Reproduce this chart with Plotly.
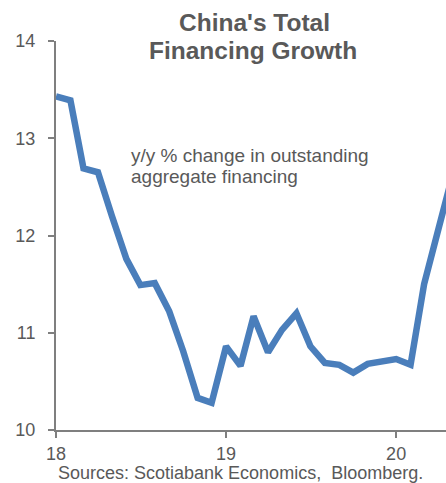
import plotly.graph_objects as go
import pandas as pd

months = pd.date_range("2018-01-01", periods=29, freq="MS")
growth = [13.43, 13.39, 12.69, 12.65, 12.20, 11.76, 11.49, 11.51, 11.22, 10.81, 10.33, 10.28,
          10.86, 10.66, 11.17, 10.80, 11.03, 11.20, 10.86, 10.69, 10.67, 10.59, 10.68, 10.70,
          10.73, 10.67, 11.50, 12.07, 12.62]
tick_vals = ["2018-01-01", "2019-01-01", "2020-01-01"]
tick_text = ["18", "19", "20"]

grey = "#595959"
axis_grey = "#7F7F7F"

W, H = 446, 483
L, T, B = 56, 41, 53
PW, PH = W - L, H - T - B


def px(xp):
    return (xp - L) / PW


def py(yp):
    return (H - B - yp) / PH


fig = go.Figure()
fig.add_trace(go.Scatter(x=months, y=growth, mode="lines",
                         line=dict(color="#4A7EBB", width=6.5), hoverinfo="skip"))

fig.update_layout(
    width=W, height=H,
    margin=dict(l=L, r=0, t=T, b=B, autoexpand=False),
    paper_bgcolor="white", plot_bgcolor="white",
    showlegend=False,
    font=dict(family="Liberation Sans, Arial, sans-serif", color=grey, size=18),
    xaxis=dict(range=["2018-01-01", "2020-04-17"], tickvals=tick_vals, ticktext=tick_text,
               showgrid=False, zeroline=False, showline=True, linecolor=axis_grey, linewidth=2,
               ticks="outside", ticklen=6, tickwidth=2, tickcolor=axis_grey,
               tickfont=dict(size=18, color=grey)),
    yaxis=dict(range=[10, 14], tickvals=[10, 11, 12, 13, 14], showgrid=False, zeroline=False,
               showline=True, linecolor=axis_grey, linewidth=2,
               ticks="outside", ticklen=6, tickwidth=2, tickcolor=axis_grey,
               ticklabelstandoff=9,
               tickfont=dict(size=18, color=grey)),
    annotations=[
        dict(text="<b>China's Total</b>", xref="paper", yref="paper",
             x=px(254), y=py(22), xanchor="center", yanchor="middle",
             showarrow=False, font=dict(size=24.5, color=grey)),
        dict(text="<b>Financing Growth</b>", xref="paper", yref="paper",
             x=px(253), y=py(50), xanchor="center", yanchor="middle",
             showarrow=False, font=dict(size=24.5, color=grey)),
        dict(text="y/y % change in outstanding", xref="paper", yref="paper",
             x=px(129), y=py(155), xanchor="left", yanchor="middle",
             showarrow=False, font=dict(size=19, color=grey)),
        dict(text="aggregate financing", xref="paper", yref="paper",
             x=px(129), y=py(176), xanchor="left", yanchor="middle",
             showarrow=False, font=dict(size=19, color=grey)),
        dict(text="Sources: Scotiabank Economics,  Bloomberg.", xref="paper", yref="paper",
             x=px(240), y=py(473), xanchor="center", yanchor="middle",
             showarrow=False, font=dict(size=18, color=grey)),
    ],
)
fig.write_html("out.html", config={"displayModeBar": False},
               post_script="document.body.style.margin='0';document.body.style.overflow='hidden';")
